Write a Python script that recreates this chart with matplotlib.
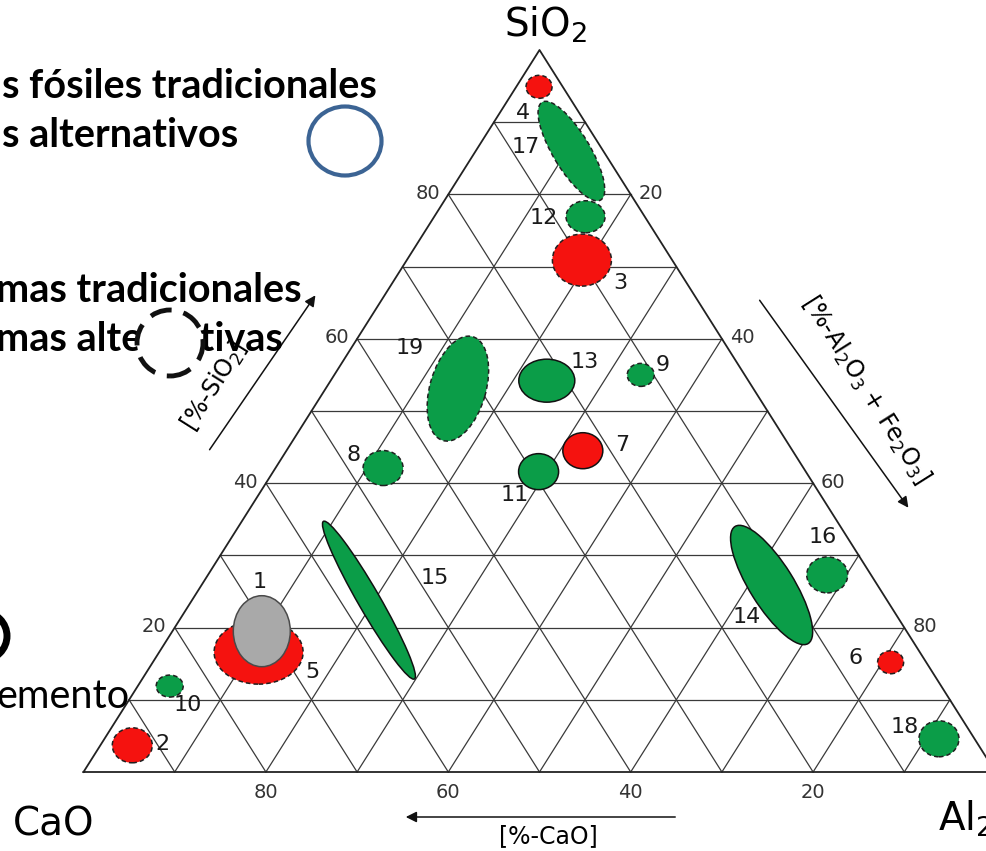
import matplotlib
matplotlib.use('Agg')
import matplotlib.pyplot as plt
from matplotlib.patches import Ellipse
from matplotlib import transforms

# zonas del diagrama ternario: SiO2 y Al2O3+Fe2O3 en %, CaO es el resto
zona = ['1', '2', '3', '4', '5', '6', '7', '8', '9', '10',
        '11', '12', '13', '14', '15', '16', '17', '18', '19']
sio2 = [19.5, 3.7, 70.9, 94.9, 16.6, 15.2, 44.5, 42.1, 55.0, 11.9,
        41.6, 76.9, 54.2, 25.9, 23.8, 27.3, 86.0, 4.6, 53.1]
al2o3 = [9.8, 3.5, 19.2, 2.5, 10.9, 80.9, 32.5, 11.8, 33.6, 3.5,
         29.1, 16.6, 23.7, 62.5, 19.4, 67.9, 10.5, 91.5, 14.5]
origen = ['cemento', 'trad', 'trad', 'trad', 'trad', 'trad', 'trad', 'alt', 'alt', 'alt',
          'alt', 'alt', 'alt', 'alt', 'alt', 'alt', 'alt', 'alt', 'alt']
tipo = ['cemento', 'mp', 'mp', 'mp', 'mp', 'mp', 'comb', 'mp', 'mp', 'mp',
        'comb', 'mp', 'comb', 'comb', 'comb', 'mp', 'mp', 'mp', 'mp']
ticks = [20, 40, 60, 80]

# tamano de cada zona en pixeles (ancho, alto, angulo) y posicion de su numero
ancho = [57, 40, 59, 26, 89, 26, 40, 40, 27, 27, 40, 39, 56, 138, 182, 41, 114, 40, 108]
alto = [71, 35, 52, 23, 64, 23, 36, 35, 23, 22, 36, 32, 43, 44, 22, 36, 37, 36, 56]
angulo = [0, 0, 0, 0, 0, 0, 0, 0, 0, 0, 0, 0, 0, -58, -60, 0, -59, 0, 74]
lab_dx = [-2, 30, 38, -16, 54, -35, 39, -30, 22, 18, -24, -42, 38, -25, 66, -5, -46, -34, -48]
lab_dy = [-49, -1, 23, 26, 20, -4, -6, -13, -10, 19, 23, 1, -19, 32, -22, -38, -4, -12, -41]

colores = {'cemento': '#a9a9a9', 'trad': '#f5120f', 'alt': '#0b9d48'}

W, H = 986, 851
fig = plt.figure(figsize=(W / 100, H / 100), dpi=100)
ax = fig.add_axes([0, 0, 1, 1])
ax.axis('off')
# x = Al + SiO2/2, y = SiO2 (el dibujo original esta achatado)
ax.set_xlim(-83.5 / 9.12, (W - 83.5) / 9.12)
ax.set_ylim(-(H - 772) / 7.22, 772 / 7.22)


def tern(s, a):
    return a + s / 2.0, s


def fp(x, y):
    return x / W, 1 - y / H


# rejilla
for k in range(1, 10):
    v = 10 * k
    for p, q in [((v, 0), (v, 100 - v)), ((0, v), (100 - v, v)), ((0, 100 - v), (100 - v, 0))]:
        x0, y0 = tern(*p)
        x1, y1 = tern(*q)
        ax.plot([x0, x1], [y0, y1], color='#3a3a3a', lw=0.9, zorder=1)
tri = [tern(0, 0), tern(0, 100), tern(100, 0), tern(0, 0)]
ax.plot([t[0] for t in tri], [t[1] for t in tri], color='#222222', lw=1.3, zorder=1)

# zonas
for i in range(len(zona)):
    x, y = tern(sio2[i], al2o3[i])
    off = transforms.ScaledTranslation(x, y, ax.transData)
    if tipo[i] == 'mp':
        ls, ec = (0, (3, 2)), '#202020'
    elif tipo[i] == 'comb':
        ls, ec = '-', '#111111'
    else:
        ls, ec = '-', '#4a4a4a'
    e = Ellipse((0, 0), ancho[i], alto[i], angle=angulo[i],
                transform=transforms.IdentityTransform() + off,
                facecolor=colores[origen[i]], edgecolor=ec, lw=1.1, linestyle=ls,
                zorder=4 if origen[i] == 'cemento' else 3)
    ax.add_patch(e)
    ax.annotate(zona[i], (x, y), xytext=(lab_dx[i], -lab_dy[i]), textcoords='offset pixels',
                ha='center', va='center', fontsize=16, color='#1a1a1a', zorder=5)

# etiquetas de los ejes
for v in ticks:
    ax.annotate(str(v), tern(v, 0), xytext=(-8, 1), textcoords='offset pixels',
                ha='right', va='center', fontsize=14, color='#333333')
    ax.annotate(str(v), tern(100 - v, v), xytext=(8, 1), textcoords='offset pixels',
                ha='left', va='center', fontsize=14, color='#333333')
    ax.annotate(str(v), tern(0, 100 - v), xytext=(0, -21), textcoords='offset pixels',
                ha='center', va='center', fontsize=14, color='#333333')

fig.text(*fp(546, 37), 'SiO$_2$', ha='center', va='baseline', fontsize=28)
fig.text(*fp(13, 836), 'CaO', ha='left', va='baseline', fontsize=28)
fig.text(*fp(938, 830), 'Al$_2$O$_3$', ha='left', va='baseline', fontsize=28)

arr = dict(arrowstyle='-|>', color='#111111', lw=1.1, mutation_scale=16)
ax.annotate('', xy=(317, H - 293), xytext=(208, H - 452), xycoords='figure pixels',
            textcoords='figure pixels', arrowprops=arr)
ax.annotate('', xy=(910, H - 510), xytext=(758, H - 298), xycoords='figure pixels',
            textcoords='figure pixels', arrowprops=arr)
ax.annotate('', xy=(403, H - 817), xytext=(678, H - 817), xycoords='figure pixels',
            textcoords='figure pixels', arrowprops=arr)
fig.text(*fp(214, 386), '[%-SiO$_2$]', ha='center', va='center', rotation=57.7,
         rotation_mode='anchor', fontsize=17)
fig.text(*fp(866, 390), '[%-Al$_2$O$_3$ + Fe$_2$O$_3$]', ha='center', va='center',
         rotation=-57.7, rotation_mode='anchor', fontsize=17)
fig.text(*fp(548, 836), '[%-CaO]', ha='center', va='center', fontsize=17)

# leyenda recortada a la izquierda
leg = dict(family=['Lato', 'DejaVu Sans'], fontsize=28.5, ha='right', va='baseline',
           transform=fig.transFigure, zorder=5)
ax.text(*fp(377, 98), 's fósiles tradicionales', fontweight='bold', **leg)
ax.text(*fp(238, 147), 's alternativos', fontweight='bold', **leg)
ax.text(*fp(302, 302), 'mas tradicionales', fontweight='bold', **leg)
ax.text(*fp(283, 351), 'mas alternativas', fontweight='bold', **leg)
ax.text(*fp(130, 708), 'emento', **leg)

ax.add_patch(Ellipse(fp(345, 141), 73 / W, 69 / H, transform=fig.transFigure,
                     facecolor='none', edgecolor='#3c6494', lw=3, zorder=6))
ax.add_patch(Ellipse(fp(170, 343), 66 / W, 66 / H, transform=fig.transFigure,
                     facecolor='white', edgecolor='#111111', lw=3.5,
                     linestyle=(0, (4.5, 2.5)), zorder=6))
ax.add_patch(Ellipse(fp(-17, 636), 48 / W, 48 / H, transform=fig.transFigure,
                     facecolor='none', edgecolor='black', lw=5, zorder=6, clip_on=False))

plt.savefig('out.png', dpi=100)
